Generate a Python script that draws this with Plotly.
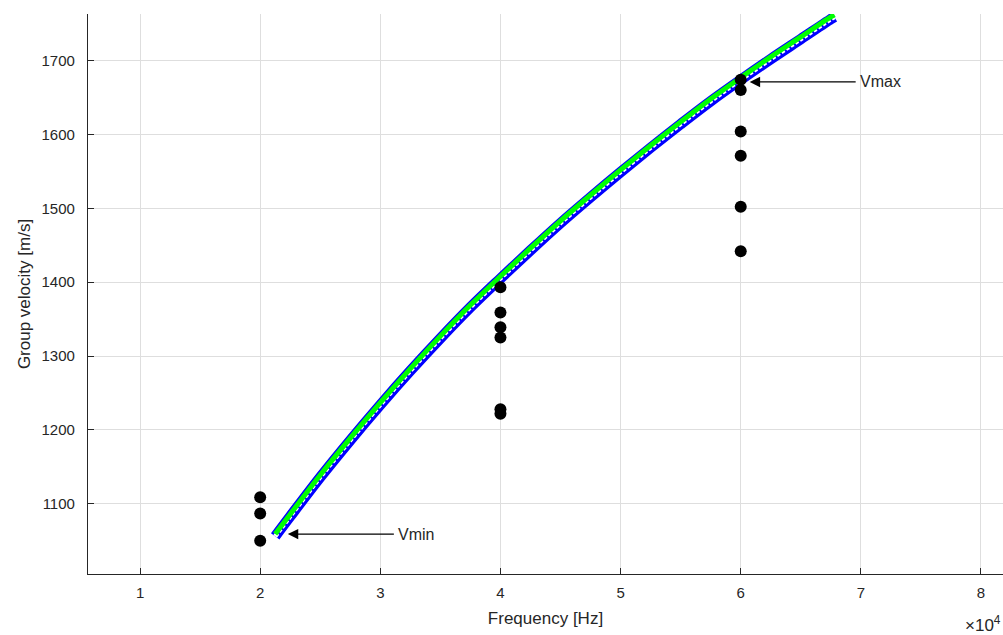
import plotly.graph_objects as go

# Dispersion curve (group velocity vs frequency), read at regular frequency steps
freq_hz = [21250, 22500, 25000, 27500, 30000, 32500, 35000, 37500, 40000,
           42500, 45000, 47500, 50000, 52500, 55000, 57500, 60000, 62500,
           65000, 67500, 67800]
vel_green = [1059, 1086, 1139, 1189, 1237, 1283, 1327, 1369, 1408,
             1446, 1483, 1518, 1552, 1585, 1617, 1648, 1677, 1705,
             1732, 1759, 1762]
# second computed series, sitting just under the first one
vel_blue = [1056, 1083, 1136, 1186, 1234, 1280, 1324, 1366, 1405,
            1443, 1480, 1515, 1549, 1582, 1614, 1645, 1674, 1702,
            1729, 1756, 1759]

# Measured group velocities at the three excitation frequencies
meas_f = [20000, 20000, 20000,
          40000, 40000, 40000, 40000, 40000, 40000,
          60000, 60000, 60000, 60000, 60000, 60000]
meas_v = [1109, 1087, 1050,
          1393, 1359, 1339, 1325, 1228, 1222,
          1674, 1660, 1604, 1571, 1502, 1442]

x_ticks = [10000, 20000, 30000, 40000, 50000, 60000, 70000, 80000]
x_tick_text = ["1", "2", "3", "4", "5", "6", "7", "8"]
y_ticks = [1100, 1200, 1300, 1400, 1500, 1600, 1700]

# Arrow labels: (label, text_f, v, tip_f)
arrows = [("Vmin", 33000, 1059, 22300),
          ("Vmax", 71650, 1671, 60750)]

AX = "#262626"
FONT = "Liberation Sans, Arial, Helvetica, sans-serif"

fig = go.Figure()

# Open blue circles rendered as a blue band with white beads
fig.add_trace(go.Scatter(x=freq_hz, y=vel_blue, mode="lines",
                         line=dict(color="#0000ff", width=10.5, shape="spline"),
                         hoverinfo="skip", showlegend=False))
fig.add_trace(go.Scatter(x=freq_hz, y=vel_blue, mode="lines",
                         line=dict(color="white", width=4.5, shape="spline",
                                   dash="3.5px,2px"),
                         hoverinfo="skip", showlegend=False))
# Green curve on top
fig.add_trace(go.Scatter(x=freq_hz, y=vel_green, mode="lines",
                         line=dict(color="#00ff00", width=5, shape="spline"),
                         showlegend=False))
# Measurements
fig.add_trace(go.Scatter(x=meas_f, y=meas_v, mode="markers",
                         marker=dict(color="black", size=12),
                         showlegend=False))

for label, xf, v, hf in arrows:
    fig.add_annotation(x=hf, y=v, ax=xf, ay=v, xref="x", yref="y",
                       axref="x", ayref="y", text=label, showarrow=True,
                       arrowhead=2, arrowsize=1.6, arrowwidth=1.3,
                       arrowcolor="black", borderpad=4,
                       font=dict(family=FONT, size=16, color=AX))

fig.add_annotation(x=1.0, y=-0.09, xref="paper", yref="paper",
                   text="\u00d710<sup>4</sup>", showarrow=False,
                   xanchor="right", yanchor="middle",
                   font=dict(family=FONT, size=17, color=AX))

fig.update_layout(
    width=1003, height=635,
    margin=dict(l=88, r=0, t=14, b=61),
    paper_bgcolor="white", plot_bgcolor="white",
    font=dict(family=FONT, size=15, color=AX),
    xaxis=dict(range=[5667, 81833], tickvals=x_ticks, ticktext=x_tick_text,
               showgrid=True, gridcolor="#dedede", gridwidth=1,
               showline=True, linecolor=AX, linewidth=1.2,
               ticks="inside", ticklen=6, tickcolor=AX,
               ticklabelstandoff=5,
               zeroline=False, tickfont=dict(size=15, color=AX),
               title=dict(text="Frequency [Hz]", font=dict(size=17, color=AX),
                          standoff=12)),
    yaxis=dict(range=[1005, 1763], tickvals=y_ticks,
               showgrid=True, gridcolor="#dedede", gridwidth=1,
               showline=True, linecolor=AX, linewidth=1.2,
               ticks="inside", ticklen=6, tickcolor=AX,
               ticklabelstandoff=9,
               zeroline=False, tickfont=dict(size=15, color=AX),
               title=dict(text="Group velocity [m/s]",
                          font=dict(size=17, color=AX), standoff=6)),
)

fig.write_html("out.html")
